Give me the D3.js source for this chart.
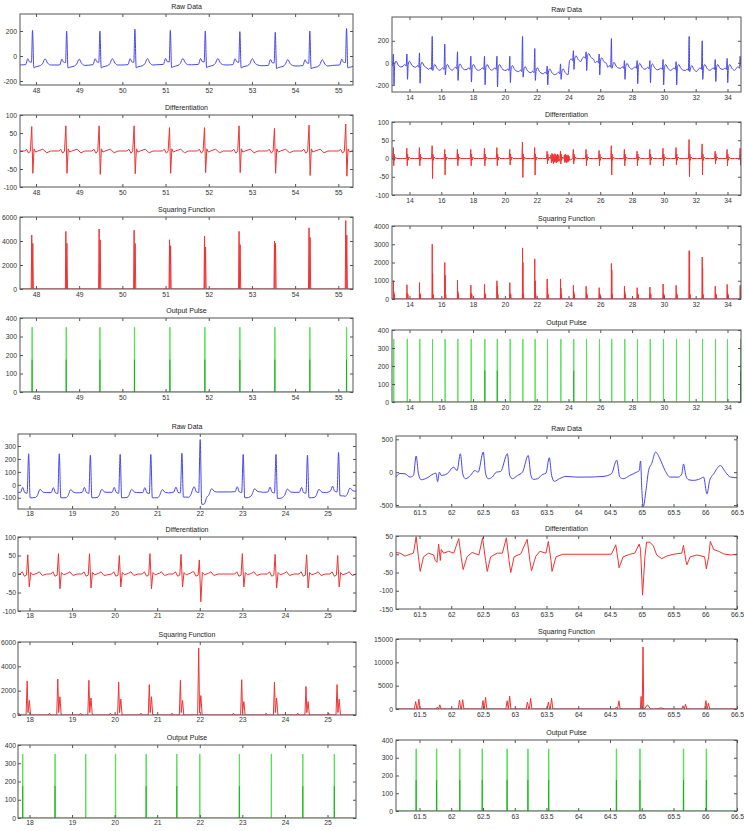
<!DOCTYPE html>
<html lang="en">
<head>
<meta charset="UTF-8">
<title>QRS detection stages</title>
<script src="https://cdn.jsdelivr.net/npm/d3@7"></script>
<style>
  body { margin: 0; background: #fff; }
  svg { display: block; font-family: Arial, "Liberation Sans", sans-serif; }
  .tick text { font-size: 6.8px; fill: #333; }
  .tick line { stroke: #555; }
  .ttl { font-size: 7px; fill: #222; text-anchor: middle; }
</style>
</head>
<body>
<svg id="chart" width="744" height="831"></svg>
<script>
// ---------- values ----------
const titles = ["Raw Data", "Differentiation", "Squaring Function", "Output Pulse"];

// top left record (regular rhythm)
const tlBeats = [47.92, 48.71, 49.48, 50.29, 51.11, 51.92, 52.72, 53.54, 54.34, 55.19];
const tlR     = [205, 200, 200, 215, 205, 200, 195, 190, 200, 220];
const tlBase  = [-72, -75, -72, -72, -70, -70, -72, -78, -80, -75];
const tlS     = [-95, -95, -95, -95, -92, -92, -95, -100, -100, -95];
const tlDPos  = [68, 70, 70, 70, 65, 65, 70, 63, 72, 75];
const tlDNeg  = [-62, -62, -65, -63, -62, -60, -60, -62, -68, -70];
const tlSq1   = [4500, 4800, 5000, 4900, 4100, 4400, 4800, 4000, 5100, 5700];
const tlSq2   = [3800, 3800, 4100, 3800, 3600, 3500, 3700, 3800, 4300, 4500];
const tlPulse = [47.91, 48.70, 49.48, 50.28, 51.10, 51.91, 52.72, 53.53, 54.34, 55.19];
const tlInner = [175, 175, 175, 175, 175, 175, 175, 175, 175, 175];

// top right record (long strip, inverted complexes)
const trBeats = [13.01, 13.86, 14.65, 15.45, 16.24, 17.04, 17.88, 18.74, 19.52, 20.33, 21.13, 21.90, 22.68, 23.52,
                 24.33, 25.13, 25.95, 26.72, 27.54, 28.34, 29.14, 29.97, 30.79, 31.61, 32.43, 33.25, 34.00, 34.82];
const trUp    = [80, 80, 90, 240, 170, 100, 60, 60, 60, 60, 240, 130, -30, -10,
                 110, 100, 80, 220, 20, 20, 20, 30, 10, 240, 200, 30, 40, 60];
const trDown  = [-200, -150, -185, -70, -110, -160, -175, -200, -220, -180, -130, -160, -200, -150,
                 -60, -70, -110, -50, -150, -190, -180, -200, -200, -80, -150, -170, -180, -30];
const trBase  = [-30, -30, -40, -60, -60, -55, -60, -60, -60, -70, -80, -90, -100, -100,
                 20, 40, 0, -40, -50, -50, -55, -60, -60, -70, -60, -60, -60, -50];
const trDPos  = [30, 28, 30, 35, 25, 25, 25, 28, 30, 25, 45, 30, 20, 20, 25, 25, 22, 35, 25, 20, 25, 28, 30, 52, 40, 20, 25, 28];
const trDNeg  = [-20, -20, -20, -55, -45, -20, -20, -20, -20, -18, -52, -45, -15, -15, -15, -20, -20, -45, -20, -20, -18, -20, -18, -50, -45, -15, -20, -18];
const trSq1   = [1000, 780, 900, 3000, 2000, 1030, 760, 800, 1000, 900, 2800, 2200, 1100, 1100,
                 750, 700, 620, 1950, 700, 620, 650, 820, 750, 2650, 2300, 700, 800, 750];
const trSq2   = [400, 300, 300, 1400, 1300, 400, 300, 300, 700, 300, 2000, 1000, 600, 600,
                 400, 300, 300, 1600, 400, 300, 300, 300, 300, 2600, 1700, 300, 400, 700];
const trPulse = trBeats;
const trInner = [0, 0, 0, 0, 0, 0, 0, 175, 175, 0, 0, 0, 0, 0, 175, 0, 0, 0, 0, 0, 0, 0, 0, 0, 0, 0, 0, 175];
const trNoiseT = [22.90, 22.93, 22.96, 22.99, 23.02, 23.05, 23.08, 23.11, 23.14, 23.17, 23.20, 23.23, 23.26, 23.29, 23.32, 23.35, 23.38, 23.41,
                  23.74, 23.77, 23.80, 23.83, 23.86, 23.89, 23.92, 23.95, 23.98, 24.01, 24.04, 24.07];
const trNoiseD = [10, -12, 14, -8, 12, -14, 9, -10, 13, -9, 11, -12, 8, -10, 12, -7, 9, -8,
                  9, -11, 12, -9, 10, -12, 8, -9, 10, -8, 6, -5];

// bottom left record
const blBeats = [17.98, 18.70, 19.43, 20.13, 20.85, 21.58, 22.01, 23.02, 23.79, 24.53, 25.26];
const blR     = [240, 240, 230, 235, 235, 245, 350, 235, 235, 230, 250];
const blBase  = [-60, -62, -60, -60, -62, -58, -55, -55, -58, -60, -50];
const blS     = [-100, -100, -100, -100, -100, -95, -150, -100, -105, -100, -85];
const blDPos  = [52, 55, 55, 50, 55, 53, 38, 55, 53, 52, 50];
const blDNeg  = [-35, -40, -38, -35, -40, -35, -75, -35, -38, -38, -35];
const blSq1   = [2800, 2950, 2850, 2700, 2500, 2850, 5500, 2900, 2700, 2350, 2500];
const blSq2   = [1200, 1500, 1400, 1300, 1500, 1200, 1600, 1100, 1400, 1100, 1300];
const blPulse = [17.84, 18.60, 19.32, 20.02, 20.74, 21.46, 22.00, 22.93, 23.68, 24.42, 25.16];
const blInner = [175, 175, 0, 0, 175, 175, 0, 175, 0, 175, 175];

// bottom right record (irregular, traced point by point)
const brRawT = [61.114, 61.194, 61.273, 61.352, 61.405, 61.447, 61.484, 61.526, 61.616, 61.722, 61.759, 61.785, 61.812, 61.843,
  61.933, 62.039, 62.092, 62.144, 62.181, 62.224, 62.303, 62.372, 62.424, 62.504, 62.541, 62.583, 62.646, 62.710, 62.778,
  62.884, 62.921, 62.963, 63.043, 63.122, 63.212, 63.254, 63.291, 63.359, 63.439, 63.492, 63.544, 63.581, 63.624, 63.703,
  63.808, 63.967, 64.125, 64.390, 64.522, 64.606, 64.654, 64.707, 64.812, 64.918, 64.960, 64.981, 65.002, 65.024, 65.066,
  65.108, 65.156, 65.219, 65.288, 65.367, 65.446, 65.578, 65.631, 65.657, 65.694, 65.737, 65.816, 65.922, 65.974, 66.027,
  66.070, 66.133, 66.239, 66.318, 66.397, 66.503];
const brRawV = [-100, -20, -25, -75, -50, 245, -25, -115, -90, -25, -15, -145, 0, -50,
  -25, 75, 25, 280, -25, -100, -50, 25, 0, 305, -25, -100, -75, 0, 10,
  280, -50, -100, -50, 0, 255, -50, -110, -100, -35, -15, 220, -50, -140, -100,
  -65, -75, -75, -65, -25, 180, -75, -100, -50, 0, 25, 170, -280, -525, -280,
  25, 130, 305, 200, 25, -75, -75, -25, 125, -50, -115, -125, -100, -75, -330,
  -125, -25, 100, 0, -75, -85];
const brDiffT = [61.114, 61.194, 61.273, 61.352, 61.405, 61.447, 61.484, 61.511, 61.563, 61.643, 61.722, 61.748, 61.775,
  61.801, 61.828, 61.843, 61.880, 61.960, 62.039, 62.118, 62.160, 62.187, 62.250, 62.329, 62.435, 62.493, 62.541, 62.567,
  62.620, 62.726, 62.805, 62.868, 62.910, 62.937, 62.990, 63.095, 63.196, 63.238, 63.264, 63.333, 63.396, 63.492, 63.529,
  63.571, 63.587, 63.650, 63.756, 64.522, 64.591, 64.628, 64.643, 64.707, 64.812, 64.891, 64.960, 64.981, 65.013, 65.050,
  65.076, 65.129, 65.182, 65.235, 65.314, 65.393, 65.499, 65.631, 65.657, 65.694, 65.710, 65.763, 65.869, 65.990, 66.017,
  66.054, 66.080, 66.133, 66.212, 66.291, 66.397, 66.503];
const brDiffV = [5, 3, -5, 0, 3, 48, -7, -47, -7, 3, -2, -17, -22,
  28, -17, 13, 3, 8, 3, 43, -12, -42, -7, 5, -2, 45, -17, -47,
  -7, 3, 3, 45, -17, -50, -7, 1, 41, -17, -45, -5, 8, 3, 35,
  -17, -47, -7, 0, 0, 26, -17, -37, -7, 0, 3, 28, 13, -112, -7,
  33, 33, 23, -2, -12, -5, 0, 3, 25, -17, -29, -7, -2, -7, -40,
  -7, 35, 13, 8, 1, -2, 0];
const brSqT = [61.44, 61.49, 61.78, 61.82, 62.13, 62.18, 62.50, 62.54, 62.88, 62.92, 63.20, 63.25, 63.53, 63.58,
               64.60, 64.64, 64.99, 65.02, 65.09, 65.30, 65.65, 65.69, 66.01, 66.05];
const brSqH = [1600, 2100, 400, 900, 1900, 2000, 1800, 2500, 1750, 2750, 1500, 2300, 1500, 2300,
               400, 1750, 2700, 13300, 900, 250, 700, 1000, 1800, 1250];
const brSqW = [0.02, 0.02, 0.02, 0.02, 0.02, 0.02, 0.02, 0.02, 0.02, 0.02, 0.02, 0.02, 0.02, 0.02,
               0.02, 0.02, 0.012, 0.012, 0.05, 0.06, 0.02, 0.02, 0.02, 0.02];
const brPulse = [61.447, 61.769, 62.134, 62.488, 62.879, 63.207, 63.534, 64.601, 64.971, 65.657, 66.017];
const brInner = [175, 175, 175, 175, 175, 175, 175, 175, 175, 175, 175];

// beat shape templates: [seconds from beat, value]; numbers are offsets from the beat's baseline,
// names pick the beat's own value from the arrays above
const tlRawShape = [[-0.32, 0], [-0.16, 3], [-0.11, 50], [-0.07, 25], [-0.025, 22], [0, "R"], [0.03, "S"], [0.07, -15],
                    [0.18, -5], [0.23, 10], [0.29, 50], [0.35, 15], [0.42, 0]];
const blRawShape = [[-0.3, 0], [-0.19, 2], [-0.14, 40], [-0.09, 0], [-0.035, -5], [0, "R"], [0.035, "S"], [0.09, "S"],
                    [0.16, -38], [0.2, -25], [0.27, 25], [0.34, 3], [0.42, 0]];
const trRawShape = [[-0.26, 0], [-0.15, 15], [-0.07, 0], [-0.02, "U"], [0.015, "D"], [0.06, 15], [0.14, 45], [0.28, 10], [0.45, -8]];
const tlDiffShape = [[-0.32, 0], [-0.18, 0], [-0.14, 5], [-0.09, -6], [-0.05, 0], [-0.018, "P"], [0.008, "N"], [0.035, 6],
                     [0.07, -3], [0.12, 0], [0.24, 5], [0.33, -5], [0.42, 0]];
const blDiffShape = [[-0.3, 0], [-0.2, 0], [-0.15, 6], [-0.1, -6], [-0.05, -3], [-0.02, "P"], [0.015, "N"], [0.05, 4],
                     [0.1, -2], [0.2, 2], [0.25, 6], [0.32, -4], [0.42, 0]];
const trDiffShape = [[-0.3, 0], [-0.06, 0], [-0.025, "P"], [0, "N"], [0.025, 12], [0.05, -5], [0.1, 4], [0.18, 0], [0.45, 0]];
const tlSqShape = [[-0.32, 0], [-0.03, 0], [-0.018, "H1"], [-0.008, 40], [0.006, "H2"], [0.02, 0], [0.42, 0]];
const blSqShape = [[-0.3, 0], [-0.26, 0], [-0.23, 150], [-0.2, 0], [-0.06, 0], [-0.035, "H1"], [-0.015, 200], [0.015, "H2"],
                   [0.045, 0], [0.42, 0]];
const trSqShape = [[-0.3, 0], [-0.03, 0], [-0.02, "H1"], [-0.01, 30], [0.005, "H2"], [0.02, 60], [0.04, 250], [0.06, 0], [0.45, 0]];

// axis ranges and ticks
const tlX = [47.63, 55.34], trX = [12.9, 34.85], blX = [17.73, 25.67], brX = [61.13, 66.5];
const tlXTicks = [48, 49, 50, 51, 52, 53, 54, 55];
const trXTicks = [14, 16, 18, 20, 22, 24, 26, 28, 30, 32, 34];
const blXTicks = [18, 19, 20, 21, 22, 23, 24, 25];
const brXTicks = [61.5, 62, 62.5, 63, 63.5, 64, 64.5, 65, 65.5, 66, 66.5];
const tlYDom = [[-232, 336], [-100, 100], [0, 6000], [0, 400]];
const trYDom = [[-265, 416], [-100, 100], [0, 4000], [0, 400]];
const blYDom = [[-187, 393], [-100, 100], [0, 6000], [0, 400]];
const brYDom = [[-530, 550], [-150, 50], [0, 15000], [0, 400]];
const tlYTicks = [[-200, 0, 200], [-100, -50, 0, 50, 100], [0, 2000, 4000, 6000], [0, 100, 200, 300, 400]];
const trYTicks = [[-200, 0, 200], [-100, -50, 0, 50, 100], [0, 1000, 2000, 3000, 4000], [0, 100, 200, 300, 400]];
const blYTicks = [[-100, 0, 100, 200, 300], [-100, -50, 0, 50, 100], [0, 2000, 4000, 6000], [0, 100, 200, 300, 400]];
const brYTicks = [[-500, 0, 500], [-150, -100, -50, 0, 50], [0, 5000, 10000, 15000], [0, 100, 200, 300, 400]];

// ---------- building the traces ----------
function expand(times, shape, vals) {
  const pts = [];
  times.forEach((t, i) => {
    const lo = i > 0 ? times[i - 1] + 0.6 * (t - times[i - 1]) : -Infinity;
    const hi = i < times.length - 1 ? t + 0.6 * (times[i + 1] - t) : Infinity;
    const b = vals.base ? vals.base[i] : 0;
    shape.forEach(([dt, v]) => {
      const tt = t + dt;
      if (tt < lo || tt >= hi) return;
      pts.push([tt, typeof v === "string" ? vals[v][i] : b + v]);
    });
  });
  return pts;
}
function merge(pts, ts, vs) {
  return pts.concat(ts.map((t, i) => [t, vs[i]])).sort((a, b) => a[0] - b[0]);
}
function humps(ts, hs, ws) {
  const pts = [];
  ts.forEach((t, i) => pts.push([t - ws[i], 0], [t, hs[i]], [t + ws[i], 0]));
  return pts;
}
function pulses(ts, dom) {
  const pts = [[dom[0], 0]];
  ts.forEach(t => pts.push([t - 0.004, 0], [t - 0.002, 350], [t + 0.004, 350], [t + 0.006, 0]));
  pts.push([dom[1], 0]);
  return pts;
}

const BLUE = "#4646ee", RED = "#f03232", GREEN = "#55e055", DGREEN = "#1ead1e";
const smooth = d3.curveMonotoneX, straight = d3.curveLinear;

const quads = [
  { x0: 20, x1: 353, pad: 3, rows: [[14, 85], [115, 187], [217, 289], [318, 392]], xDom: tlX, xTicks: tlXTicks,
    yDom: tlYDom, yTicks: tlYTicks, pulse: tlPulse, inner: tlInner,
    traces: [
      expand(tlBeats, tlRawShape, { base: tlBase, R: tlR, S: tlS }),
      expand(tlBeats, tlDiffShape, { P: tlDPos, N: tlDNeg }),
      expand(tlBeats, tlSqShape, { H1: tlSq1, H2: tlSq2 })] },
  { x0: 392, x1: 741, pad: 3, rows: [[17, 92], [122, 195], [226, 299], [330, 402]], xDom: trX, xTicks: trXTicks,
    yDom: trYDom, yTicks: trYTicks, pulse: trPulse, inner: trInner,
    traces: [
      expand(trBeats, trRawShape, { base: trBase, U: trUp, D: trDown }),
      merge(expand(trBeats, trDiffShape, { P: trDPos, N: trDNeg }), trNoiseT, trNoiseD),
      expand(trBeats, trSqShape, { H1: trSq1, H2: trSq2 })] },
  { x0: 18, x1: 356, pad: 2, rows: [[434, 509], [537, 611], [642, 715], [745, 818]], xDom: blX, xTicks: blXTicks,
    yDom: blYDom, yTicks: blYTicks, pulse: blPulse, inner: blInner,
    traces: [
      expand(blBeats, blRawShape, { base: blBase, R: blR, S: blS }),
      expand(blBeats, blDiffShape, { P: blDPos, N: blDNeg }),
      expand(blBeats, blSqShape, { H1: blSq1, H2: blSq2 })] },
  { x0: 396, x1: 737, pad: 3, rows: [[436, 507], [536, 609], [639, 709], [740, 811]], xDom: brX, xTicks: brXTicks,
    yDom: brYDom, yTicks: brYTicks, pulse: brPulse, inner: brInner,
    traces: [
      brRawT.map((t, i) => [t, brRawV[i]]),
      brDiffT.map((t, i) => [t, brDiffV[i]]),
      [[brX[0], 0]].concat(humps(brSqT, brSqH, brSqW), [[brX[1], 0]])] }
];

// ---------- drawing ----------
const svg = d3.select("#chart");
let clipN = 0;

function drawPanel(q, r) {
  const [y0, y1] = q.rows[r];
  const x = d3.scaleLinear().domain(q.xDom).range([q.x0, q.x1]);
  const y = d3.scaleLinear().domain(q.yDom[r]).range([y1, y0]);
  const id = "clip" + (clipN++);
  svg.append("clipPath").attr("id", id).append("rect")
    .attr("x", q.x0).attr("y", y0).attr("width", q.x1 - q.x0).attr("height", y1 - y0);
  const g = svg.append("g");
  const plot = g.append("g").attr("clip-path", `url(#${id})`);
  const line = c => d3.line().x(d => x(d[0])).y(d => y(d[1])).curve(c);

  if (r < 3) {
    plot.append("path").datum(q.traces[r])
      .attr("fill", "none").attr("stroke", r === 0 ? BLUE : RED).attr("stroke-width", 1)
      .attr("stroke-linejoin", "round")
      .attr("d", line(r === 0 ? smooth : straight));
  } else {
    plot.append("path").datum(pulses(q.pulse, q.xDom))
      .attr("fill", "none").attr("stroke", GREEN).attr("stroke-width", 1)
      .attr("d", line(straight));
    plot.selectAll("path.inner").data(q.pulse.map((t, i) => [[t, 0], [t, q.inner[i]]]).filter(d => d[1][1] > 0))
      .join("path").attr("class", "inner")
      .attr("fill", "none").attr("stroke", DGREEN).attr("stroke-width", 1)
      .attr("d", line(straight));
  }

  const ax = (a, ticks, fmt) => g.append("g").call(a.tickValues(ticks).tickSize(-3).tickPadding(q.pad).tickFormat(fmt))
    .call(s => s.select(".domain").remove());
  ax(d3.axisBottom(x), q.xTicks, d => String(d)).attr("transform", `translate(0,${y1})`);
  ax(d3.axisTop(x), q.xTicks, "").attr("transform", `translate(0,${y0})`);
  ax(d3.axisLeft(y), q.yTicks[r], d => String(d)).attr("transform", `translate(${q.x0},0)`);
  ax(d3.axisRight(y), q.yTicks[r], "").attr("transform", `translate(${q.x1},0)`);

  g.append("rect").attr("x", q.x0).attr("y", y0).attr("width", q.x1 - q.x0).attr("height", y1 - y0)
    .attr("fill", "none").attr("stroke", "#555").attr("stroke-width", 1);
  g.append("text").attr("class", "ttl").attr("x", (q.x0 + q.x1) / 2).attr("y", y0 - 5).text(titles[r]);
}

quads.forEach(q => [0, 1, 2, 3].forEach(r => drawPanel(q, r)));
</script>
</body>
</html>
